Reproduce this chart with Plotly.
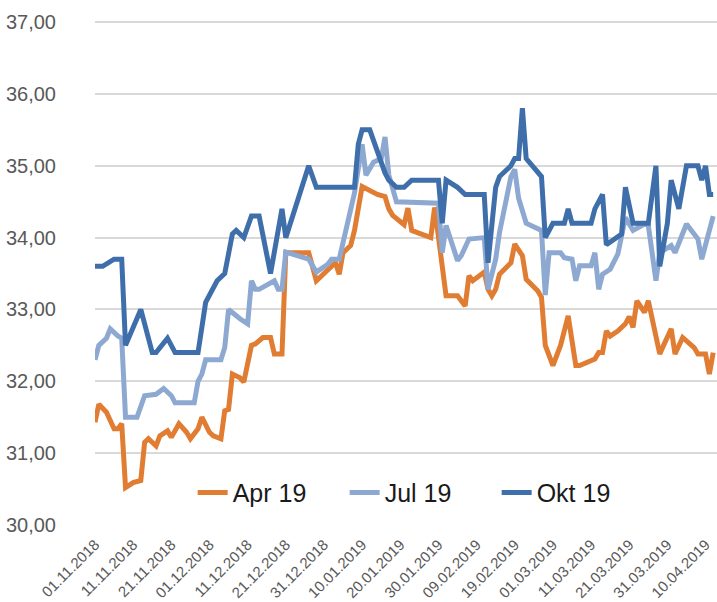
import plotly.graph_objects as go

# ---- data ----
apr_dates = ["2018-11-01","2018-11-02","2018-11-04","2018-11-06","2018-11-07","2018-11-08","2018-11-09","2018-11-11","2018-11-13","2018-11-14",
             "2018-11-15","2018-11-17","2018-11-18","2018-11-20","2018-11-21","2018-11-22","2018-11-23","2018-11-25","2018-11-26","2018-11-28",
             "2018-11-29","2018-12-01","2018-12-02","2018-12-04","2018-12-05","2018-12-06","2018-12-07","2018-12-09","2018-12-10","2018-12-12",
             "2018-12-13","2018-12-15","2018-12-17","2018-12-18","2018-12-20","2018-12-21","2018-12-27","2018-12-29","2019-01-01","2019-01-03",
             "2019-01-04","2019-01-05","2019-01-07","2019-01-08","2019-01-10","2019-01-12","2019-01-14","2019-01-16","2019-01-17","2019-01-18",
             "2019-01-19","2019-01-21","2019-01-22","2019-01-23","2019-01-25","2019-01-28","2019-01-29","2019-02-01","2019-02-04","2019-02-06",
             "2019-02-07","2019-02-08","2019-02-11","2019-02-12","2019-02-13","2019-02-14","2019-02-15","2019-02-18","2019-02-19","2019-02-21",
             "2019-02-22","2019-02-25","2019-02-26","2019-02-27","2019-03-01","2019-03-03","2019-03-05","2019-03-07","2019-03-08","2019-03-12",
             "2019-03-13","2019-03-14","2019-03-15","2019-03-16","2019-03-18","2019-03-20","2019-03-21","2019-03-22","2019-03-23","2019-03-25",
             "2019-03-26","2019-03-29","2019-03-30","2019-04-01","2019-04-02","2019-04-04","2019-04-07","2019-04-08","2019-04-10","2019-04-11",
             "2019-04-12"]
apr_values = [31.43,31.68,31.57,31.34,31.34,31.41,30.52,30.59,30.62,31.15,
              31.20,31.10,31.24,31.31,31.22,31.31,31.41,31.29,31.20,31.34,
              31.50,31.29,31.24,31.20,31.59,31.61,32.10,32.05,31.99,32.50,
              32.52,32.61,32.61,32.38,32.38,33.79,33.79,33.40,33.56,33.65,
              33.49,33.79,33.89,34.10,34.71,34.65,34.60,34.57,34.40,34.31,
              34.27,34.18,34.41,34.10,34.06,34.00,34.42,33.19,33.19,33.05,
              33.47,33.40,33.52,33.28,33.19,33.28,33.49,33.65,33.91,33.75,
              33.42,33.26,33.17,32.50,32.22,32.50,32.91,32.22,32.22,32.31,
              32.40,32.40,32.70,32.63,32.70,32.80,32.90,32.75,33.12,32.96,
              33.12,32.38,32.50,32.73,32.38,32.61,32.47,32.38,32.38,32.10,
              32.40]

jul_dates = ["2018-11-01","2018-11-02","2018-11-04","2018-11-05","2018-11-07","2018-11-08","2018-11-09","2018-11-12","2018-11-14","2018-11-17",
             "2018-11-19","2018-11-21","2018-11-22","2018-11-27","2018-11-28","2018-11-29","2018-11-30","2018-12-04","2018-12-05","2018-12-06",
             "2018-12-09","2018-12-11","2018-12-12","2018-12-13","2018-12-14","2018-12-18","2018-12-19","2018-12-20","2018-12-21","2018-12-27",
             "2018-12-29","2019-01-01","2019-01-02","2019-01-04","2019-01-08","2019-01-10","2019-01-11","2019-01-13","2019-01-15","2019-01-16",
             "2019-01-17","2019-01-19","2019-01-30","2019-01-31","2019-02-01","2019-02-04","2019-02-05","2019-02-07","2019-02-11","2019-02-12",
             "2019-02-14","2019-02-15","2019-02-18","2019-02-19","2019-02-20","2019-02-21","2019-02-22","2019-02-26","2019-02-27","2019-02-28",
             "2019-03-03","2019-03-04","2019-03-06","2019-03-07","2019-03-08","2019-03-11","2019-03-12","2019-03-13","2019-03-14","2019-03-16",
             "2019-03-18","2019-03-20","2019-03-22","2019-03-25","2019-03-26","2019-03-28","2019-03-29","2019-04-01","2019-04-02","2019-04-05",
             "2019-04-08","2019-04-09","2019-04-11","2019-04-12"]
jul_values = [32.30,32.50,32.60,32.73,32.63,32.60,31.50,31.50,31.80,31.82,
              31.90,31.80,31.70,31.70,32.00,32.10,32.30,32.30,32.47,33.00,
              32.87,32.80,33.40,33.28,33.28,33.40,33.28,33.28,33.80,33.70,
              33.52,33.63,33.70,33.70,34.62,35.30,34.87,35.05,35.10,35.40,
              34.87,34.50,34.48,33.79,34.17,33.68,33.75,33.98,34.00,33.28,
              33.70,34.07,34.85,34.95,34.55,34.40,34.20,34.10,33.20,33.79,
              33.79,33.72,33.70,33.40,33.61,33.61,33.79,33.28,33.49,33.56,
              33.77,34.28,34.10,34.19,34.17,33.40,33.79,33.89,33.79,34.19,
              33.98,33.70,34.10,34.30]

okt_dates = ["2018-11-01","2018-11-03","2018-11-06","2018-11-08","2018-11-09","2018-11-13","2018-11-16","2018-11-17","2018-11-20","2018-11-22",
             "2018-11-28","2018-11-29","2018-11-30","2018-12-03","2018-12-05","2018-12-07","2018-12-08","2018-12-10","2018-12-12","2018-12-14",
             "2018-12-17","2018-12-20","2018-12-21","2018-12-27","2018-12-29","2019-01-08","2019-01-09","2019-01-10","2019-01-12","2019-01-16",
             "2019-01-17","2019-01-19","2019-01-21","2019-01-23","2019-01-30","2019-01-31","2019-02-01","2019-02-04","2019-02-06","2019-02-11",
             "2019-02-12","2019-02-14","2019-02-15","2019-02-18","2019-02-19","2019-02-20","2019-02-21","2019-02-22","2019-02-25","2019-02-26",
             "2019-02-27","2019-03-01","2019-03-04","2019-03-05","2019-03-06","2019-03-11","2019-03-12","2019-03-14","2019-03-15","2019-03-18",
             "2019-03-19","2019-03-20","2019-03-22","2019-03-26","2019-03-28","2019-03-29","2019-03-31","2019-04-01","2019-04-03","2019-04-05",
             "2019-04-08","2019-04-09","2019-04-10","2019-04-11","2019-04-12"]
okt_values = [33.60,33.60,33.70,33.70,32.50,33.00,32.40,32.40,32.60,32.40,
              32.40,32.80,33.10,33.40,33.50,34.05,34.10,34.00,34.30,34.30,
              33.50,34.40,34.00,35.00,34.70,34.70,35.30,35.50,35.50,34.90,
              34.80,34.70,34.70,34.80,34.80,34.20,34.80,34.70,34.60,34.60,
              33.65,34.70,34.85,35.00,35.10,35.10,35.80,35.10,34.90,34.85,
              34.00,34.20,34.20,34.40,34.20,34.20,34.40,34.60,33.90,34.00,
              34.05,34.70,34.20,34.20,35.00,33.60,34.20,34.80,34.40,35.00,
              35.00,34.80,35.00,34.60,34.60]

series_names = ["Apr 19", "Jul 19", "Okt 19"]
series_colors = ["#E07D33", "#8EA9D1", "#3F6FAA"]

x_tick_dates = ["2018-11-01","2018-11-11","2018-11-21","2018-12-01","2018-12-11","2018-12-21","2018-12-31",
                "2019-01-10","2019-01-20","2019-01-30","2019-02-09","2019-02-19","2019-03-01","2019-03-11",
                "2019-03-21","2019-03-31","2019-04-10"]
y_ticks = [30, 31, 32, 33, 34, 35, 36, 37]

fig = go.Figure()
for name, xs, ys, col in zip(series_names,
                             [apr_dates, jul_dates, okt_dates],
                             [apr_values, jul_values, okt_values],
                             series_colors):
    fig.add_trace(go.Scatter(x=xs, y=ys, mode="lines", name=name,
                             line=dict(color=col, width=5)))

fig.update_layout(
    width=717, height=602,
    margin=dict(l=95, r=0, t=21, b=77),
    paper_bgcolor="white", plot_bgcolor="white",
    separators=",.",
    font=dict(family="Liberation Sans, Arial, sans-serif", color="#595959"),
    showlegend=True,
    legend=dict(orientation="h", x=0.157, y=0.064, xanchor="left", yanchor="middle",
                font=dict(size=25, color="#1a1a1a"), bgcolor="rgba(255,255,255,0)",
                itemwidth=30, tracegroupgap=0, entrywidth=107, entrywidthmode="pixels"),
    xaxis=dict(type="date", range=["2018-11-01", "2019-04-13"], automargin=False,
               tickvals=x_tick_dates, tickformat="%d.%m.%Y", tickangle=-45,
               tickfont=dict(size=15, color="#595959"),
               showgrid=False, zeroline=False, showline=False,
               ticks="outside", ticklen=4, tickcolor="rgba(0,0,0,0)"),
    yaxis=dict(range=[30, 37.015], tickvals=y_ticks, tickformat=".2f", automargin=False,
               tickfont=dict(size=20, color="#595959"),
               showgrid=True, gridcolor="#D9D9D9", gridwidth=1.5,
               zeroline=False, showline=False, ticklabelstandoff=38),
)

fig.write_html("out.html", config={"displayModeBar": False},
               post_script="document.body.style.margin='0';document.body.style.padding='0';")
